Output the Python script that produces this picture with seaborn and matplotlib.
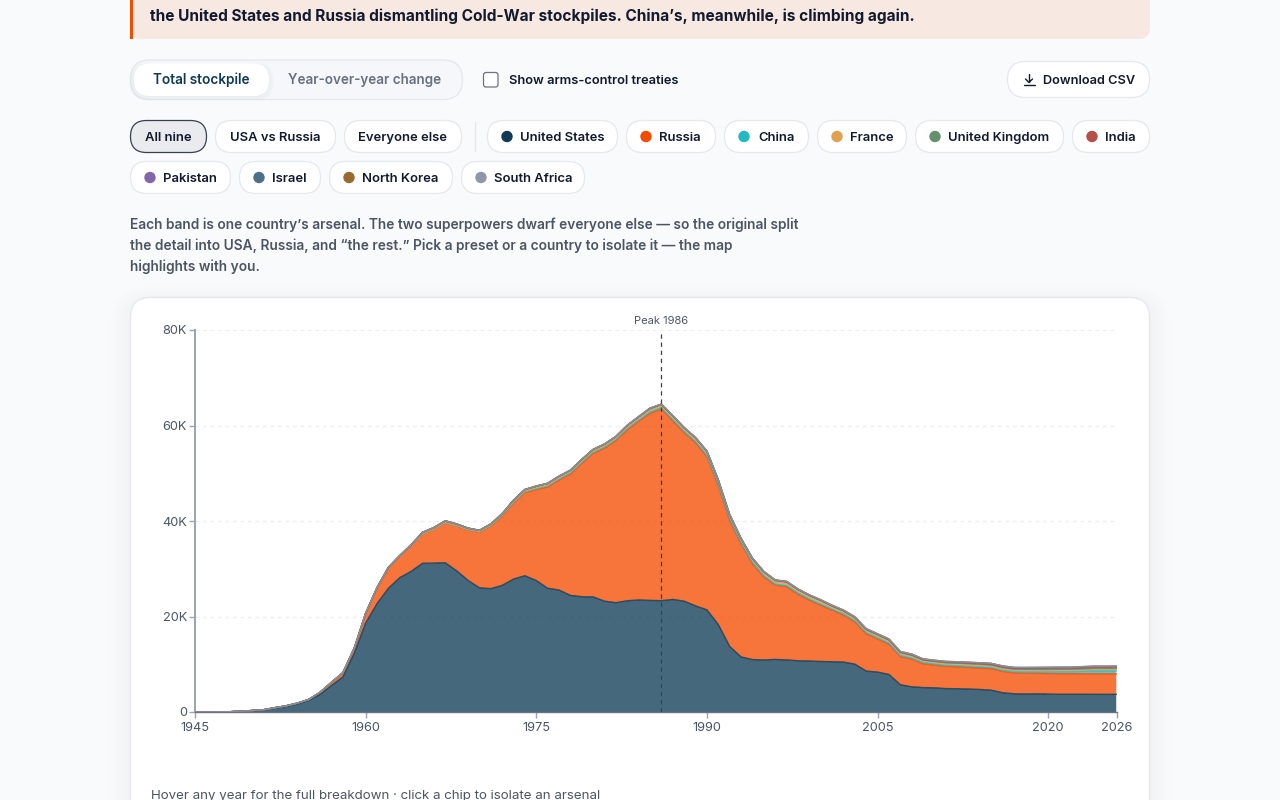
import matplotlib
matplotlib.use("Agg")
import matplotlib.pyplot as plt
from matplotlib.patches import FancyBboxPatch, Circle, Rectangle
from matplotlib.lines import Line2D
import pandas as pd
import seaborn as sns
import seaborn.objects as so

# Warhead inventories per year, 1945-2026
YEARS = list(range(1945, 2027))
UNITED_STATES = [2, 9, 13, 50, 170,
    299, 438, 841, 1169, 1703, 2422, 3692, 5543, 7345, 12298,
    18638, 22700, 25900, 28133, 29463, 31139, 31175, 31255, 29561, 27552,
    26008, 25830, 26516, 27835, 28537, 27519, 25914, 25542, 24418, 24138,
    24104, 23208, 22886, 23305, 23459, 23368, 23317, 23575, 23205, 22217,
    21392, 18306, 13731, 11536, 10979, 10904, 11011, 10903, 10732, 10685,
    10577, 10526, 10457, 10027, 8570, 8360, 7853, 5709, 5273, 5113,
    5066, 4897, 4881, 4804, 4717, 4571, 4018, 3822, 3785, 3805,
    3750, 3708, 3708, 3708, 3700, 3700, 3700]
RUSSIA = [0, 0, 0, 0, 1,
    5, 25, 50, 120, 150, 200, 426, 660, 869, 1060,
    2000, 3300, 4300, 4500, 5400, 6129, 7089, 8339, 9399, 10538,
    11643, 13092, 14478, 15915, 17385, 19055, 21205, 23044, 25393, 27935,
    30062, 32049, 33952, 35804, 37431, 39197, 40159, 37400, 35300, 34200,
    32100, 29100, 26400, 23700, 20100, 17400, 15550, 15350, 13950, 12750,
    11800, 10800, 9850, 8870, 7830, 6940, 6350, 5900, 5800, 5000,
    4750, 4650, 4580, 4520, 4490, 4490, 4490, 4350, 4350, 4315,
    4312, 4310, 4310, 4300, 4300, 4300, 4300]
CHINA = [0] * 19 + [1, 5, 20, 25, 35, 50,
    75, 100, 130, 150, 170, 185, 200, 205, 220, 235,
    205, 210, 220, 230, 240, 245, 250, 255, 240, 235,
    230, 230, 232, 232, 232, 232, 232, 232, 232, 232,
    232, 232, 232, 232, 235, 235, 235, 235, 235, 240,
    240, 245, 250, 255, 258, 260, 265, 270, 280, 300,
    350, 410, 410, 500, 600, 600, 620]
FRANCE = [0] * 19 + [4, 32, 36, 36, 36, 36,
    36, 45, 70, 116, 145, 188, 212, 228, 235, 235,
    250, 274, 274, 279, 280, 360, 355, 420, 410, 410,
    505, 540, 540, 525, 510, 500, 450, 450, 450, 450,
    470, 350, 348, 350, 350, 350, 350, 350, 350, 300,
    300, 300, 300, 300, 300, 300, 300, 300, 300, 290,
    290, 290, 290, 290, 290, 290, 290]
UNITED_KINGDOM = [0] * 8 + [1, 5, 10, 20, 20, 22, 25,
    30, 50, 100, 130, 160, 310, 310, 380, 350, 320,
    280, 300, 320, 340, 350, 350, 350, 350, 350, 350,
    350, 350, 350, 400, 422, 422, 350, 350, 350, 350,
    350, 350, 350, 300, 300, 300, 300, 300, 280, 280,
    280, 280, 280, 280, 280, 280, 280, 250, 225, 225,
    225, 225, 225, 225, 225, 215, 215, 215, 215, 215,
    215, 225, 225, 225, 225, 225, 225]
INDIA = [0] * 29 + [1, 1, 1, 1, 1, 1,
    1, 2, 2, 2, 2, 3, 3, 4, 5, 6,
    7, 8, 10, 12, 14, 16, 18, 22, 26, 32,
    40, 45, 50, 55, 60, 65, 70, 75, 80, 85,
    90, 95, 100, 105, 110, 115, 120, 130, 140, 150,
    160, 160, 164, 172, 180, 180, 180]
PAKISTAN = [0] * 41 + [3, 5, 7, 10,
    13, 15, 17, 19, 21, 23, 25, 27, 28, 29,
    30, 35, 40, 45, 50, 55, 60, 65, 70, 75,
    80, 90, 100, 110, 120, 130, 140, 145, 150, 160,
    165, 165, 165, 170, 170, 170, 170]
ISRAEL = [0] * 22 + [2, 4, 6,
    8, 11, 14, 17, 20, 23, 26, 29, 31, 33,
    35, 37, 39, 41, 43, 44, 46, 48, 50, 52,
    53, 55, 57, 59, 61, 63, 65, 67, 69, 72,
    75, 78, 80, 80, 80, 80, 80, 80, 80, 80,
    80, 80, 80, 80, 80, 80, 80, 80, 80, 80,
    90, 90, 90, 90, 90, 90, 90]
NORTH_KOREA = [0] * 61 + [1, 2, 3, 4,
    8, 10, 12, 14, 16, 18, 20, 25, 30, 30,
    35, 40, 40, 50, 50, 50, 50]
SOUTH_AFRICA = [0] * 34 + [1, 1, 1, 2, 3, 4, 5, 6, 6, 6, 6,
    6] + [0] * 36

COUNTRIES = ["United States", "Russia", "China", "France", "United Kingdom",
             "India", "Pakistan", "Israel", "North Korea", "South Africa"]
SERIES = [UNITED_STATES, RUSSIA, CHINA, FRANCE, UNITED_KINGDOM,
          INDIA, PAKISTAN, ISRAEL, NORTH_KOREA, SOUTH_AFRICA]
COLORS = ["#0e3a55", "#f54a00", "#22b8c4", "#e0a050", "#668f6e",
          "#b45048", "#8068a8", "#4d7088", "#996b30", "#8e96a8"]
PALETTE = dict(zip(COUNTRIES, COLORS))

X_TICKS = [1945, 1960, 1975, 1990, 2005, 2020, 2026]
Y_TICKS = [0, 20000, 40000, 60000, 80000]
Y_TICK_LABELS = ["0", "20K", "40K", "60K", "80K"]
PEAK_YEAR = 1986

BANNER_TEXT = ("the United States and Russia dismantling Cold-War stockpiles. "
               "China\u2019s, meanwhile, is climbing again.")
NOTE_LINES = [
    "Each band is one country\u2019s arsenal. The two superpowers dwarf everyone else \u2014 so the original split",
    "the detail into USA, Russia, and \u201cthe rest.\u201d Pick a preset or a country to isolate it \u2014 the map",
    "highlights with you.",
]
FOOTER_TEXT = "Hover any year for the full breakdown \u00b7 click a chip to isolate an arsenal"

PAGE_BG = "#f9fafc"
INK = "#111a2e"
MUTED = "#4b5563"
BORDER = "#e6e8ec"
FONT = ["Inter", "DejaVu Sans"]

sns.set_theme(style="white")
plt.rcParams["font.family"] = FONT

W, H = 1280, 800
fig = plt.figure(figsize=(W / 100, H / 100), dpi=100, facecolor=PAGE_BG)

# Page furniture lives on a full-figure axes measured in pixels
ui = fig.add_axes([0, 0, 1, 1], zorder=0)
ui.set_xlim(0, W)
ui.set_ylim(H, 0)
ui.axis("off")


def box(x0, y0, x1, y1, radius, face, edge="none", lw=1.0, alpha=None, z=1):
    patch = FancyBboxPatch((x0 + radius, y0 + radius), x1 - x0 - 2 * radius, y1 - y0 - 2 * radius,
                           boxstyle=f"round,pad={radius},rounding_size={radius}",
                           facecolor=face, edgecolor=edge, linewidth=lw, alpha=alpha, zorder=z)
    ui.add_patch(patch)


def label(x, y, s, size=13, weight=600, color=INK, ha="left", z=5):
    # y is the optical middle of the line; anchoring on the baseline keeps rows level
    ui.text(x, y + size * 0.36, s, fontsize=size * 0.72, fontweight=weight, color=color,
            ha=ha, va="baseline", zorder=z, family=FONT)


def chip(x0, x1, y0, text, text_x=None, dot=None, active=False):
    box(x0 + .5, y0 + .5, x1 - .5, y0 + 32.5, 16,
        "#e9ebee" if active else "white", "#374151" if active else BORDER, 0.9)
    if dot is None:
        label((x0 + x1) / 2, y0 + 16.5, text, ha="center")
    else:
        ui.add_patch(Circle((x0 + 20, y0 + 16.5), 5, color=dot, zorder=4))
        label(text_x, y0 + 16.5, text)


# Callout banner, cut by the top of the page
box(130, -30, 1150, 39, 12, "#f7e8e1")
ui.add_patch(Rectangle((130, 0), 3, 39, color="#f54a00", lw=0, zorder=2))
label(150, 15, BANNER_TEXT, size=15.42, weight=700)

# View toggle
box(130.5, 60, 462.5, 99.5, 19.5, "#f6f7fa", BORDER, 1.0)
for i in range(4):
    box(132 - i, 65 - i, 271 + i, 98 + i, 16 + i, "#9aa3b2", alpha=0.025, z=1.5)
box(134, 63.5, 269, 96, 16, "white", z=2)
label(201, 79.5, "Total stockpile", size=13.6, color="#0e3a55", ha="center")
label(364.5, 79.5, "Year-over-year change", size=13.45, color="#667080", ha="center")

# Treaty checkbox
box(483.5, 72.5, 498, 87, 2.5, "white", "#6b7280", 0.9)
label(509, 79.5, "Show arms-control treaties", size=12.9)

# Download button with its arrow icon
box(1007.5, 61.5, 1149.5, 97.5, 18, "white", BORDER, 0.9)
ui.add_line(Line2D([1029, 1029], [74, 82], color=INK, lw=1.0, zorder=4))
ui.add_line(Line2D([1025.5, 1029, 1032.5], [79, 82.5, 79], color=INK, lw=1.0, zorder=4))
ui.add_line(Line2D([1023.5, 1034.5], [85, 85], color=INK, lw=1.0, zorder=4))
label(1043, 79.5, "Download CSV", size=12.75)

# Preset and country chips
chip(130, 207, 120, "All nine", active=True)
chip(215, 336, 120, "USA vs Russia")
chip(344, 462, 120, "Everyone else")
ui.add_line(Line2D([474.5, 474.5], [122, 151], color=BORDER, lw=1.0))
chip(487, 618, 120, COUNTRIES[0], 520, COLORS[0])
chip(626, 716, 120, COUNTRIES[1], 659, COLORS[1])
chip(724, 809, 120, COUNTRIES[2], 758, COLORS[2])
chip(817, 907, 120, COUNTRIES[3], 850, COLORS[3])
chip(915, 1064, 120, COUNTRIES[4], 948, COLORS[4])
chip(1072, 1150, 120, COUNTRIES[5], 1105, COLORS[5])
chip(130, 231, 161, COUNTRIES[6], 163, COLORS[6])
chip(239, 321, 161, COUNTRIES[7], 272, COLORS[7])
chip(329, 453, 161, COUNTRIES[8], 362, COLORS[8])
chip(461, 585, 161, COUNTRIES[9], 494, COLORS[9])

for y, line in zip((224, 245, 266), NOTE_LINES):
    label(130, y, line, size=13.75, color=MUTED)

# Chart card with a soft shadow
for i in range(8):
    box(131 - 3 * i, 300 - 2 * i, 1149 + 3 * i, 860 + 3 * i, 20 + 3 * i, "#8a94a8", alpha=0.005, z=0.5)
box(130.5, 297.5, 1149.5, 860, 20, "white", BORDER, 1.0, z=1)
label(151, 794, FOOTER_TEXT, size=13.3, weight=400, color=MUTED)

# Stacked area chart
ax = fig.add_axes([195 / W, 1 - 712 / H, (1116.5 - 195) / W, (712 - 330) / H], zorder=2)
ax.patch.set_alpha(0)

frame = pd.DataFrame({
    "year": YEARS * len(COUNTRIES),
    "country": [c for c in COUNTRIES for _ in YEARS],
    "warheads": [v for values in SERIES for v in values],
})
frame["top"] = frame.groupby("year")["warheads"].cumsum()

(
    so.Plot(frame, x="year", y="warheads", color="country")
    .add(so.Area(alpha=0.77, edgewidth=0), so.Stack(), legend=False)
    .scale(color=so.Nominal(PALETTE, order=COUNTRIES))
    .limit(x=(1945, 2026), y=(0, 80000))
    .label(x="", y="")
    .on(ax)
    .plot()
)
sns.lineplot(data=frame, x="year", y="top", hue="country", hue_order=COUNTRIES,
             palette=PALETTE, estimator=None, errorbar=None, linewidth=1.0, alpha=0.85,
             legend=False, ax=ax, zorder=3)

ax.set_xlim(1945, 2026)
ax.set_ylim(0, 80000)
ax.set_xlabel("")
ax.set_ylabel("")
ax.set_xticks(X_TICKS)
ax.set_yticks(Y_TICKS, Y_TICK_LABELS)
ax.tick_params(axis="both", which="major", length=4.3, width=1, color="#9ca3af", bottom=True, left=True,
               labelsize=9.2, labelcolor="#4b5563")
ax.tick_params(axis="x", pad=2.8)
ax.tick_params(axis="y", pad=1.5)
ax.grid(axis="y", color="#eceef1", linestyle=(0, (3, 3)), linewidth=0.9, zorder=0)
ax.grid(axis="x", visible=False)
ax.set_axisbelow(True)
for side in ("top", "right"):
    ax.spines[side].set_visible(False)
ax.spines["left"].set_color("#9ca3af")
ax.spines["left"].set_linewidth(1.4)
ax.spines["bottom"].set_color("#6b7280")
ax.spines["bottom"].set_linewidth(1.0)

# Peak marker
ax.plot([PEAK_YEAR, PEAK_YEAR], [0, 79300], color="#374151", lw=0.9, ls=(0, (3.5, 3)), zorder=4)
ax.annotate(f"Peak {PEAK_YEAR}", (PEAK_YEAR, 80000), xytext=(0, 6.5), textcoords="offset points",
            ha="center", va="center", fontsize=8, color="#4b5563")

fig.savefig("out.png", dpi=100, facecolor=PAGE_BG)
